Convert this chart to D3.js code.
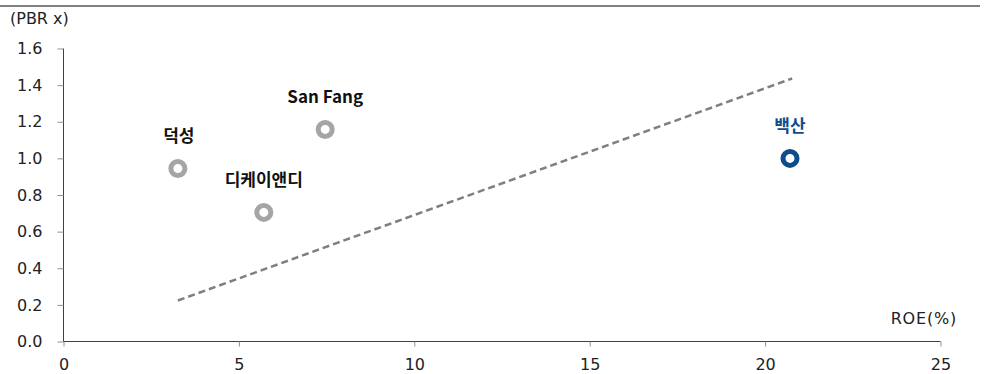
<!DOCTYPE html>
<html><head><meta charset="utf-8">
<script src="https://cdn.jsdelivr.net/npm/d3@7"></script>
<style>body{margin:0;background:#fff;} text{font-family:"DejaVu Sans",sans-serif;}</style>
</head><body>
<svg id="c" width="987" height="374"></svg>
<script>
const names = ["덕성", "디케이앤디", "San Fang", "백산"];
const roe = [3.26, 5.71, 7.46, 20.71];
const pbr = [0.945, 0.705, 1.158, 1.0];
const highlight = [false, false, false, true];
const trendX = [3.26, 20.77];
const trendY = [0.224, 1.436];
const xTicks = [0, 5, 10, 15, 20, 25];
const yTicks = [0, 0.2, 0.4, 0.6, 0.8, 1.0, 1.2, 1.4, 1.6];

const svg = d3.select("#c");
const x = d3.scaleLinear().domain([0, 25]).range([63.5, 940.5]);
const y = d3.scaleLinear().domain([0, 1.6]).range([341.5, 48.5]);
const axisFont = "'DejaVu Sans',sans-serif";

svg.append("line").attr("x1", 0).attr("x2", 980).attr("y1", 6).attr("y2", 6)
  .attr("stroke", "#808080").attr("stroke-width", 2);

const fmt = d3.format(".1f");
const ya = svg.append("g").attr("transform", "translate(63.5,0)")
  .call(d3.axisLeft(y).tickValues(yTicks).tickFormat(fmt).tickSize(6).tickPadding(15));
ya.select(".domain").attr("stroke", "#404040").attr("d", `M-0,${y(1.6)}V${y(0)}`);
ya.selectAll(".tick line").attr("stroke", "#909090");
ya.selectAll(".tick text").attr("fill", "#222").style("font-size", "16px").style("font-family", axisFont);

const xa = svg.append("g").attr("transform", "translate(0,341.5)")
  .call(d3.axisBottom(x).tickValues(xTicks).tickSize(5).tickPadding(12));
xa.select(".domain").attr("stroke", "#404040").attr("d", `M${x(0)},0H${x(25)}`);
xa.selectAll(".tick line").attr("stroke", "#909090");
xa.selectAll(".tick text").attr("fill", "#222").style("font-size", "16px").style("font-family", axisFont);

svg.append("text").attr("x", 10).attr("y", 24).text("(PBR x)")
  .style("font-size", "16px").attr("fill", "#222");
svg.append("text").attr("x", 957).attr("y", 324).attr("text-anchor", "end").text("ROE(%)")
  .style("font-size", "16px").style("letter-spacing", "0.8px").attr("fill", "#222");

svg.append("line")
  .attr("x1", x(trendX[0])).attr("y1", y(trendY[0]))
  .attr("x2", x(trendX[1])).attr("y2", y(trendY[1]))
  .attr("stroke", "#7f7f7f").attr("stroke-width", 2.5).attr("stroke-dasharray", "7,4");

const data = names.map((n, i) => ({n, x: roe[i], y: pbr[i], h: highlight[i]}));
svg.selectAll("circle.pt").data(data).join("circle").attr("class", "pt")
  .attr("cx", d => x(d.x)).attr("cy", d => y(d.y)).attr("r", 7)
  .attr("fill", "#fff").attr("stroke", d => d.h ? "#0f4c8c" : "#a5a5a5").attr("stroke-width", 5);

svg.selectAll("text.lbl").data(data).join("text").attr("class", "lbl")
  .attr("x", d => x(d.x) + (d.n === "덕성" ? 1 : 0))
  .attr("y", d => y(d.y) - 26)
  .attr("text-anchor", "middle").text(d => d.n)
  .style("font-family", "'Noto Sans CJK KR',sans-serif")
  .style("font-size", "17px").style("font-weight", "bold")
  .attr("fill", d => d.h ? "#0f4c8c" : "#111");
</script>
</body></html>
